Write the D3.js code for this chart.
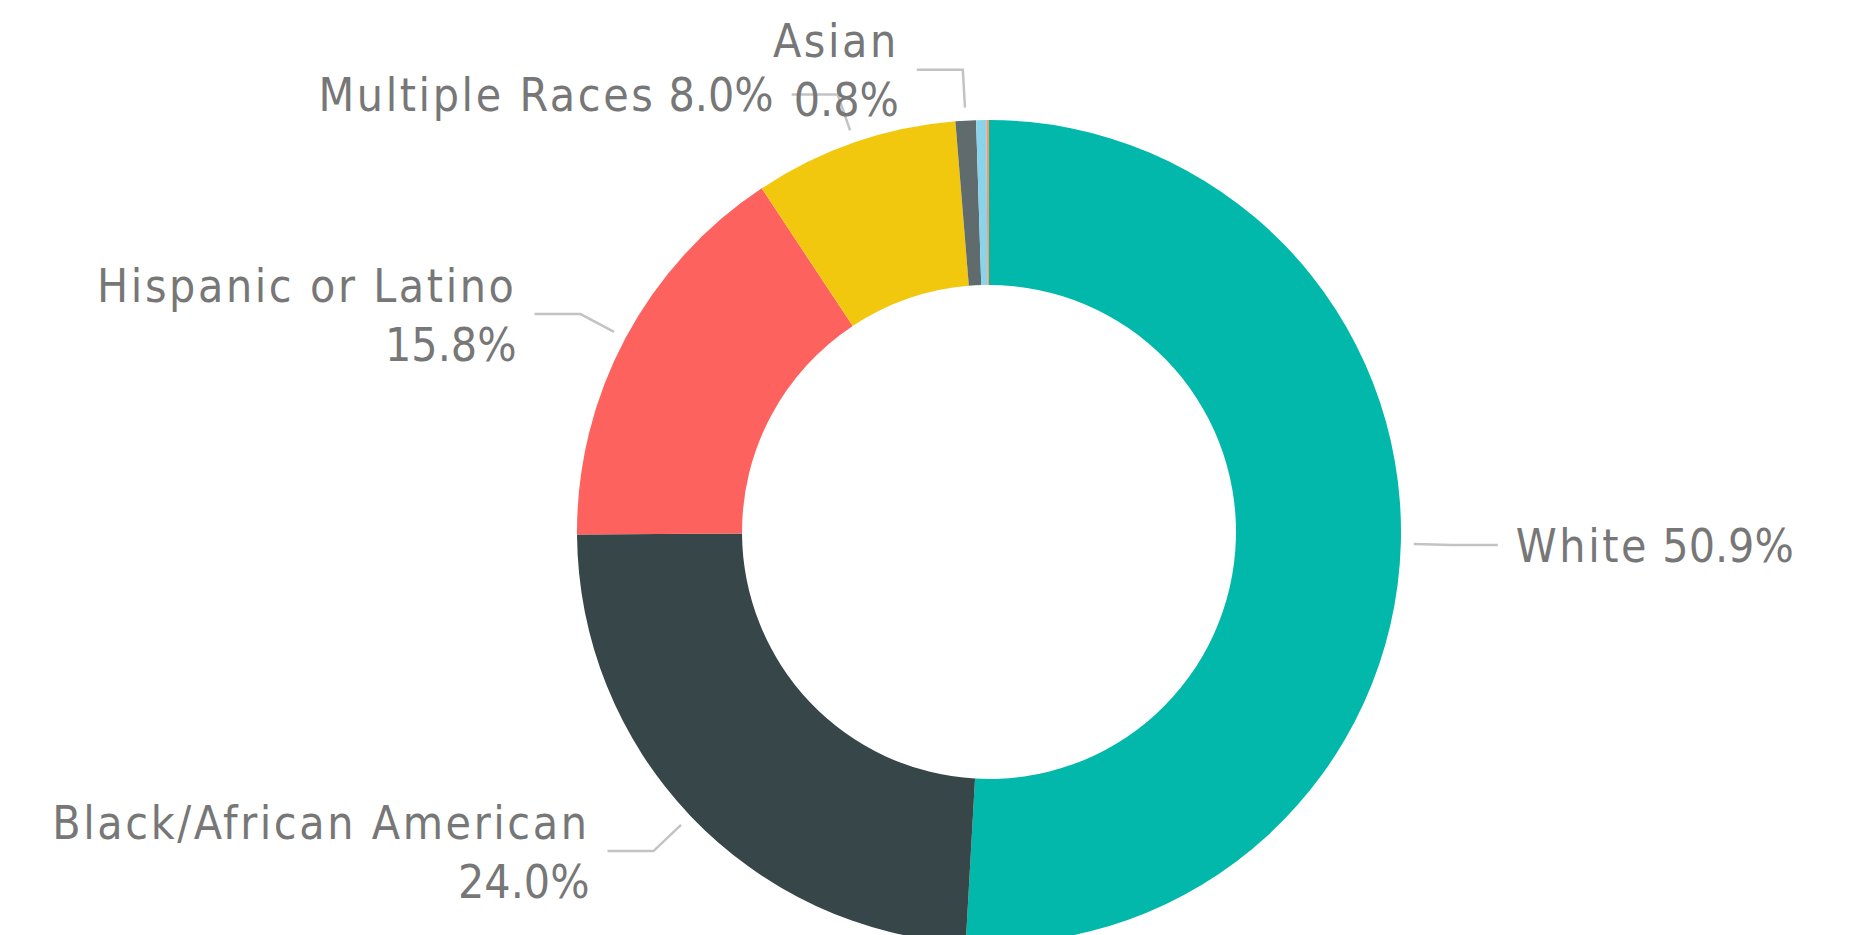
<!DOCTYPE html>
<meta charset="utf-8">
<style>
  body { margin: 0; background: #fff; }
  svg text { font-family: "DejaVu Sans Condensed", Roboto, sans-serif; fill: #777; }
</style>
<svg width="1854" height="935"></svg>
<script src="https://cdn.jsdelivr.net/npm/d3@7/dist/d3.min.js"></script>
<script>

var categories = ["White", "Black/African American", "Hispanic or Latino", "Multiple Races", "Asian",
                  "American Indian or Alaska Native", "Native Hawaiian or Other Pacific Islander"],
    values = [50.9, 24.0, 15.8, 8.0, 0.8, 0.4, 0.1],
    colors = ["#01B8AA", "#374649", "#FD625E", "#F2C80F", "#5F6B6D", "#8AD4EB", "#FE9666"];

// which slices get a label, and which labels wrap onto two lines
var labelled = ["White", "Black/African American", "Hispanic or Latino", "Multiple Races", "Asian"],
    wrapped = ["Black/African American", "Hispanic or Latino", "Asian"];

var formatPct = d3.format(".1f");

var data = categories.map(function(c, i) { return {name: c, value: values[i]}; });

var cx = 989, cy = 532,
    outer = 412, inner = 247,
    lineH = 59;

var color = d3.scaleOrdinal().domain(categories).range(colors);

var pie = d3.pie().sort(null).value(function(d) { return d.value; });

var arc = d3.arc().innerRadius(inner).outerRadius(outer);

var svg = d3.select("svg");
var g = svg.append("g").attr("transform", "translate(" + cx + "," + cy + ")");

var arcs = pie(data);

g.selectAll("path.slice")
  .data(arcs)
  .enter().append("path")
    .attr("class", "slice")
    .attr("d", arc)
    .attr("fill", function(d) { return color(d.data.name); });

function pt(a, r) { return [r * Math.sin(a), -r * Math.cos(a)]; }

var lab = g.selectAll("g.label")
  .data(arcs.filter(function(d) { return labelled.indexOf(d.data.name) >= 0; }))
  .enter().append("g")
    .attr("class", "label");

lab.each(function(d) {
  var a = (d.startAngle + d.endAngle) / 2,
      right = Math.sin(a) > 0,
      p1 = pt(a, outer + 13),
      p2 = pt(a, outer + 51),
      p3 = [p2[0] + (right ? 46 : -46), p2[1]],
      tx = p3[0] + (right ? 18 : -18),
      sel = d3.select(this);

  sel.append("polyline")
    .attr("points", [p1, p2, p3].map(function(p) { return p.join(","); }).join(" "))
    .attr("fill", "none")
    .attr("stroke", "#c3c3c3")
    .attr("stroke-width", 2.5);

  var pctText = formatPct(d.data.value) + "%",
      // each line is a list of [text, letterSpacing] segments
      lines = wrapped.indexOf(d.data.name) >= 0
        ? [[[d.data.name, 2.6]], [[pctText, 0]]]
        : [[[d.data.name, 2.6], [" " + pctText, 0]]];

  var t = sel.append("text")
    .attr("text-anchor", right ? "start" : "end")
    .style("font-size", "46px");

  var ln = t.selectAll("tspan.line")
    .data(lines)
    .enter().append("tspan")
      .attr("class", "line")
      .attr("x", tx)
      .attr("y", function(l, i) { return p3[1] + 17 - (lines.length - 1) * lineH / 2 + i * lineH; });

  ln.selectAll("tspan")
    .data(function(l) { return l; })
    .enter().append("tspan")
      .style("letter-spacing", function(s) { return s[1] + "px"; })
      .text(function(s) { return s[0]; });
});

</script>
